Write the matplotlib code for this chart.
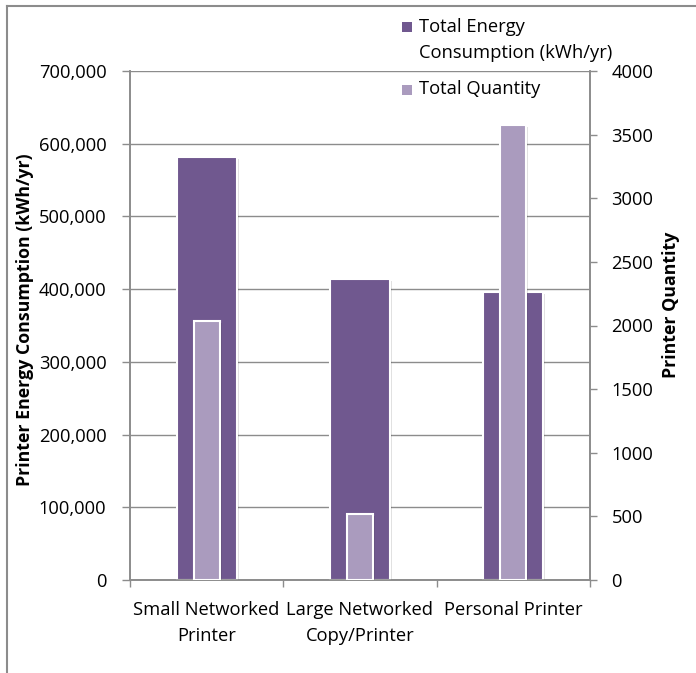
import matplotlib
matplotlib.use("Agg")
import matplotlib.pyplot as plt
from matplotlib.lines import Line2D
from matplotlib.patches import Rectangle
from matplotlib import patheffects as pe

plt.rcParams['font.family'] = ['Open Sans', 'DejaVu Sans']

# Data
categories = ["Small Networked\nPrinter", "Large Networked\nCopy/Printer", "Personal Printer"]
energy_kwh = [582000, 413500, 395700]
quantity = [2035, 520, 3575]
series_names = ["Total Energy\nConsumption (kWh/yr)", "Total Quantity"]
left_ticks = [0, 100000, 200000, 300000, 400000, 500000, 600000, 700000]
right_ticks = [0, 500, 1000, 1500, 2000, 2500, 3000, 3500, 4000]

dark = "#70588F"
light = "#AA9BBE"
axis_gray = "#8C8C8C"
fs = 13.2

W, H = 696, 673
fig = plt.figure(figsize=(W / 100, H / 100), dpi=100)
fig.patch.set_facecolor("white")

ax = fig.add_axes([130 / W, 1 - 580 / H, (590 - 130) / W, (580 - 71) / H])
ax2 = ax.twinx()

x = list(range(len(categories)))
shadow = [pe.SimplePatchShadow(offset=(1.5, -1.5), shadow_rgbFace="#000000", alpha=0.12), pe.Normal()]

bars1 = ax.bar(x, energy_kwh, width=0.39, color=dark, edgecolor="white", linewidth=1.5, zorder=3)
for b in bars1:
    b.set_path_effects(shadow)
bars2 = ax2.bar(x, quantity, width=0.17, color=light, edgecolor="white", linewidth=1.5, zorder=3)
for b in bars2:
    b.set_path_effects(shadow)

ax.set_xlim(-0.5, 2.5)
ax.set_ylim(0, 700000)
ax2.set_ylim(0, 4000)

ax.set_yticks(left_ticks)
ax.set_yticklabels([f"{v:,}" for v in left_ticks])
ax2.set_yticks(right_ticks)
ax2.set_yticklabels([str(v) for v in right_ticks])

ax.set_xticks(x)
ax.set_xticklabels(categories, linespacing=1.6)
ax.set_xticks([-0.5, 0.5, 1.5, 2.5], minor=True)
ax.tick_params(axis="x", which="major", length=0, pad=15, labelsize=fs, colors="black")
ax.tick_params(axis="x", which="minor", length=5, width=1, color=axis_gray, direction="out")
ax.tick_params(axis="y", length=6, width=1, color=axis_gray, labelsize=fs, pad=11, direction="out")
ax2.tick_params(axis="y", length=5, width=1, color=axis_gray, labelsize=fs, pad=10.5, direction="out")

ax.yaxis.grid(True, color=axis_gray, linewidth=1)
ax.set_axisbelow(True)

for a in (ax, ax2):
    a.spines["top"].set_visible(False)
    for s in ("left", "right", "bottom"):
        a.spines[s].set_color(axis_gray)
        a.spines[s].set_linewidth(1.2)

# Axis titles
fig.text(25 / W, 1 - 320 / H, "Printer Energy Consumption (kWh/yr)", rotation=90,
         ha="center", va="center", fontsize=fs - 0.4, fontweight="bold")
fig.text(671 / W, 1 - 305 / H, "Printer Quantity", rotation=90,
         ha="center", va="center", fontsize=fs - 0.4, fontweight="bold")

# Legend
fig.add_artist(Rectangle((402 / W, 1 - 32 / H), 10 / W, 10 / H, transform=fig.transFigure,
                         facecolor=dark, edgecolor="none"))
fig.text(419 / W, 1 - 40 / H, series_names[0], ha="left", va="center", fontsize=fs, linespacing=1.6)
fig.add_artist(Rectangle((402 / W, 1 - 95 / H), 10 / W, 10 / H, transform=fig.transFigure,
                         facecolor=light, edgecolor="none"))
fig.text(419 / W, 1 - 89 / H, series_names[1], ha="left", va="center", fontsize=fs)

# Outer frame
fig.add_artist(Line2D([7 / W, 7 / W], [0, 1 - 6 / H], transform=fig.transFigure, color=axis_gray, linewidth=1.5))
fig.add_artist(Line2D([7 / W, 1], [1 - 6 / H, 1 - 6 / H], transform=fig.transFigure, color=axis_gray, linewidth=1.5))

fig.savefig("out.png", dpi=100, facecolor="white")
